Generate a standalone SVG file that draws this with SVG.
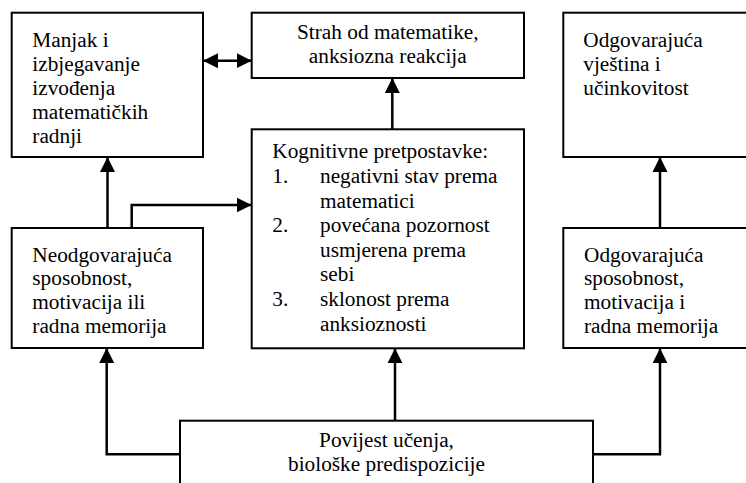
<svg xmlns="http://www.w3.org/2000/svg" width="746" height="483" viewBox="0 0 746 483">
<style>
  .box { fill: #fff; stroke: #000; stroke-width: 2; }
  .t { font-family: "Liberation Serif", "Times New Roman", serif; font-size: 21.3px; fill: #000; }
  .c { text-anchor: middle; }
  .ln { fill: none; stroke: #000; stroke-width: 2.5; }
</style>
<defs>
  <marker id="ah" markerUnits="userSpaceOnUse" markerWidth="16" markerHeight="16" viewBox="0 0 16 16" refX="15" refY="8" orient="auto-start-reverse">
    <path d="M0,0.5 L15,8 L0,15.5 Z" fill="#000"/>
  </marker>
</defs>
<rect width="746" height="483" fill="#fff"/>

<g id="connectors">
  <line class="ln" x1="203" y1="60.7" x2="251.7" y2="60.7" marker-start="url(#ah)" marker-end="url(#ah)"/>
  <line class="ln" x1="107.5" y1="228" x2="107.5" y2="157" marker-end="url(#ah)"/>
  <line class="ln" x1="392.3" y1="129.3" x2="392.3" y2="78" marker-end="url(#ah)"/>
  <line class="ln" x1="660" y1="228" x2="660" y2="157" marker-end="url(#ah)"/>
  <polyline class="ln" points="131.7,228 131.7,205 251.7,205" marker-end="url(#ah)"/>
  <polyline class="ln" points="180,454.3 106.7,454.3 106.7,348" marker-end="url(#ah)"/>
  <line class="ln" x1="395" y1="420.7" x2="395" y2="348.3" marker-end="url(#ah)"/>
  <polyline class="ln" points="593,454.3 660,454.3 660,348.3" marker-end="url(#ah)"/>
</g>

<g id="n-manjak">
  <rect class="box" x="11.7" y="12.7" width="191.3" height="144.3"/>
  <text class="t" x="32.3" y="46.7">Manjak i</text>
  <text class="t" x="32.3" y="70.7">izbjegavanje</text>
  <text class="t" x="32.3" y="94.7">izvođenja</text>
  <text class="t" x="32.3" y="118.7">matematičkih</text>
  <text class="t" x="32.3" y="142.7">radnji</text>
</g>

<g id="n-strah">
  <rect class="box" x="251.7" y="12.7" width="272.3" height="65.3"/>
  <text class="t c" x="387.8" y="39">Strah od matematike,</text>
  <text class="t c" x="387.8" y="63">anksiozna reakcija</text>
</g>

<g id="n-vjestina">
  <rect class="box" x="563.3" y="12.7" width="200" height="144.3"/>
  <text class="t" x="583.3" y="46.7">Odgovarajuća</text>
  <text class="t" x="583.3" y="70.7">vještina i</text>
  <text class="t" x="583.3" y="94.7">učinkovitost</text>
</g>

<g id="n-neodg">
  <rect class="box" x="11.7" y="228" width="191.3" height="120"/>
  <text class="t" x="32.3" y="261.7">Neodgovarajuća</text>
  <text class="t" x="32.3" y="285.3">sposobnost,</text>
  <text class="t" x="32.3" y="309">motivacija ili</text>
  <text class="t" x="32.3" y="332.7">radna  memorija</text>
</g>

<g id="n-kognitivne">
  <rect class="box" x="251.7" y="129.3" width="272.3" height="219"/>
  <text class="t" x="272.3" y="158.3">Kognitivne pretpostavke:</text>
  <text class="t" x="272.3" y="183">1.</text>
  <text class="t" x="320" y="183">negativni stav prema</text>
  <text class="t" x="320" y="207.6">matematici</text>
  <text class="t" x="272.3" y="232.2">2.</text>
  <text class="t" x="320" y="232.2">povećana pozornost</text>
  <text class="t" x="320" y="256.8">usmjerena prema</text>
  <text class="t" x="320" y="281.4">sebi</text>
  <text class="t" x="272.3" y="306">3.</text>
  <text class="t" x="320" y="306">sklonost prema</text>
  <text class="t" x="320" y="330.6">anksioznosti</text>
</g>

<g id="n-odg">
  <rect class="box" x="563.3" y="228" width="200" height="120"/>
  <text class="t" x="584" y="261.7">Odgovarajuća</text>
  <text class="t" x="584" y="285.3">sposobnost,</text>
  <text class="t" x="584" y="309">motivacija i</text>
  <text class="t" x="584" y="332.7">radna  memorija</text>
</g>

<g id="n-povijest">
  <rect class="box" x="180" y="420.7" width="413" height="80"/>
  <text class="t c" x="386.5" y="446.7">Povijest učenja,</text>
  <text class="t c" x="386.5" y="470.5">biološke predispozicije</text>
</g>
</svg>
